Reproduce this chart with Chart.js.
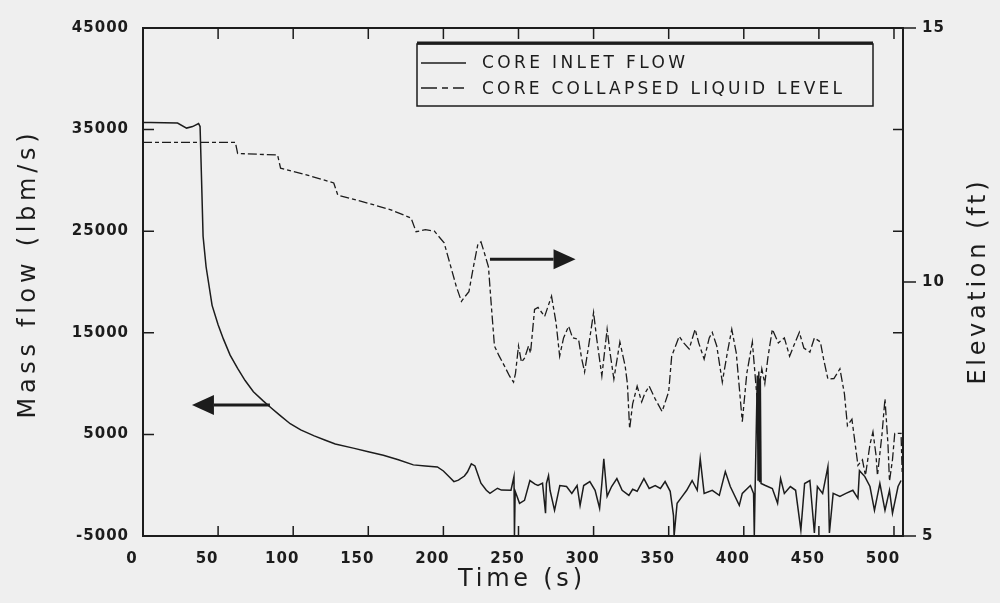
<!DOCTYPE html>
<html>
<head>
<meta charset="utf-8">
<script src="https://cdn.jsdelivr.net/npm/chart.js@4/dist/chart.umd.min.js"></script>
<style>
  html, body { margin: 0; padding: 0; background: #efefef; }
  canvas { display: block; }
</style>
</head>
<body>
<canvas id="chart" width="1000" height="603"></canvas>
<script>
// ---- data ----
const tFlow = [0, 5, 23, 29, 33, 37, 38, 39, 40, 42, 46, 50, 53.5, 58, 63, 68, 73.5, 80, 85, 91, 98, 105, 114, 121, 128,
  140, 150, 160, 170, 180, 188, 196, 200, 204, 207, 210, 214, 216, 218.6, 221, 225, 228.6, 231, 236,
  238.6, 245, 247, 247.3, 247.8, 250.7, 254, 257.6, 261, 263, 266, 268, 268.6, 270, 271, 274, 277.5, 282, 285.5, 289,
  291, 293.4, 297.5, 301, 304, 305.5, 306.8, 309, 312, 315.5, 319, 323.5, 326, 329, 333.5, 337, 341, 344.5, 347.6, 351,
  353.2, 353.6, 355.6, 359, 362, 365.6, 369, 371, 373.6, 379, 383.7, 387.7, 391, 397, 399, 404.4, 406.5, 407, 407.5,
  409, 409.5, 410, 410.5, 411, 411.5, 414.4, 419, 422.5, 424.5, 427, 431, 434.5, 438, 440.5, 444, 447, 449, 452.5, 456,
  457, 459.5, 464, 468, 472.6, 476, 477, 480.6, 484, 487, 490.6, 494, 497, 499, 502.7, 504.7];
const flow = [35700, 35700, 35650, 35150, 35300, 35600, 35300, 30000, 24500, 21500, 17700, 15800, 14400, 12800, 11500,
  10300, 9200, 8300, 7650, 6900, 6050, 5450, 4850, 4450, 4050,
  3650, 3300, 2950, 2500, 2000, 1900, 1800, 1400, 800, 350, 500, 900, 1300, 2100, 1900, 200, -500, -800, -300,
  -480, -500, 850, -5000, -600, -1780, -1490, 460, 100, -30, 200, -2760, 170, 950, -500, -2470, -30, -130, -810, -30,
  -1980, -30, 360, -500, -2270, 170, 2600, -1100, -130, 650, -500, -1000, -400, -600, 650, -320, -30, -320, 360, -600,
  -3000, -5000, -1780, -1100, -500, 460, -500, 2600, -810, -500, -1000, 1340, -130, -1980, -810, -30, -810, -5000, -700,
  10800, 500, 11200, 300, 10500, 170, -30, -320, -1780, 650, -810, -130, -500, -4420, 170, 460, -4700, -130, -810, 1820,
  -4700, -810, -1100, -810, -500, -1290, 1430, 850, -130, -2470, 170, -2470, -500, -2760, -130, 460];

const tLevel = [0, 61.5, 63, 89.6, 91.6, 110, 127, 129.7, 150, 165, 178.5, 181.8, 188, 194, 200.5, 204, 208.6, 212, 214,
  217, 220, 223, 225, 227, 230, 232, 234, 237, 240.6, 244, 246.7, 248, 250, 252, 254, 256.7, 258, 260.7, 263, 267.4, 270,
  272, 275, 277.4, 280, 283.4, 286, 290, 292, 294, 297, 300, 302, 305.5, 309, 311, 313.5, 317.5, 321, 322.5, 324, 326,
  329, 332, 334, 337, 341, 345.6, 350, 352, 357, 360, 363.6, 367.6, 370, 373.6, 377, 379, 382, 385.7, 389, 392, 395, 399,
  402, 405.7, 409, 412, 414, 416, 419, 423, 427, 430.5, 434, 437, 440, 444, 447, 451, 453, 456, 460, 464, 467, 469, 472,
  476, 479, 481, 484, 486, 488, 489, 492, 494, 496, 497, 499, 500.5, 504.7, 505.5];
const level = [12.75, 12.75, 12.53, 12.5, 12.24, 12.1, 11.95, 11.71, 11.55, 11.42, 11.26, 10.99, 11.03, 11.0, 10.77, 10.4,
  9.91, 9.62, 9.7, 9.81, 10.3, 10.75, 10.79, 10.6, 10.3, 9.5, 8.74, 8.55, 8.35, 8.15, 8.03, 8.2, 8.74, 8.42, 8.5, 8.74, 8.6,
  9.46, 9.5, 9.32, 9.55, 9.72, 9.2, 8.54, 8.9, 9.13, 8.9, 8.87, 8.5, 8.23, 8.8, 9.4, 8.9, 8.15, 9.07, 8.6, 8.09, 8.82, 8.35,
  8.0, 7.11, 7.6, 7.95, 7.64, 7.8, 7.95, 7.7, 7.45, 7.84, 8.54, 8.93, 8.8, 8.68, 9.07, 8.8, 8.48, 8.9, 9.01, 8.74, 8.03, 8.6,
  9.07, 8.6, 7.25, 8.2, 8.82, 7.64, 8.29, 8.0, 8.5, 9.07, 8.8, 8.9, 8.54, 8.8, 9.01, 8.7, 8.62, 8.9, 8.82, 8.5, 8.09, 8.1,
  8.29, 7.8, 7.17, 7.3, 6.39, 6.5, 6.19, 6.8, 7.05, 6.6, 6.19, 7.0, 7.7, 6.8, 6.08, 6.5, 7.02, 7.02, 6.2];

const xTicks = [0, 50, 100, 150, 200, 250, 300, 350, 400, 450, 500];
const flowTicks = [-5000, 5000, 15000, 25000, 35000, 45000];
const levelTicks = [5, 9, 10, 11, 13, 15];
const levelLabels = [5, 10, 15];
const seriesNames = ['CORE INLET FLOW', 'CORE COLLAPSED LIQUID LEVEL'];

const ink = '#1c1c1c';
const fam = "'DejaVu Sans', sans-serif";
const levelDash = [9, 3, 4, 3];

// text squeezed/stretched to a given width, like the old lettering
function spacedText(ctx, str, x, y, width, centered) {
  ctx.letterSpacing = '0px';
  const w = ctx.measureText(str).width;
  ctx.letterSpacing = ((width - w) / (str.length - 1)) + 'px';
  ctx.textAlign = 'left';
  ctx.fillText(str, centered ? x - width / 2 : x, y);
  ctx.letterSpacing = '0px';
}

function arrow(ctx, x0, x1, yy) {
  const dir = x1 > x0 ? 1 : -1, head = 22, half = 10;
  ctx.lineWidth = 3;
  ctx.beginPath(); ctx.moveTo(x0, yy); ctx.lineTo(x1 - dir * head, yy); ctx.stroke();
  ctx.beginPath();
  ctx.moveTo(x1, yy); ctx.lineTo(x1 - dir * head, yy - half); ctx.lineTo(x1 - dir * head, yy + half);
  ctx.closePath(); ctx.fill();
}

const framePlugin = {
  id: 'frame',
  beforeDraw(chart) {
    const c = chart.ctx;
    c.fillStyle = '#efefef';
    c.fillRect(0, 0, chart.width, chart.height);
    c.letterSpacing = '1px';
  },
  afterDraw(chart) {
    const { ctx, chartArea: a } = chart;
    const { x, y, y1 } = chart.scales;
    ctx.save();
    ctx.letterSpacing = '0px';
    ctx.strokeStyle = ink; ctx.fillStyle = ink;

    // box and inward ticks
    ctx.lineWidth = 2;
    ctx.strokeRect(a.left, a.top, a.right - a.left, a.bottom - a.top);
    ctx.lineWidth = 1.5;
    ctx.beginPath();
    xTicks.forEach(v => {
      if (v === 0) return;
      const px = x.getPixelForValue(v);
      ctx.moveTo(px, a.bottom); ctx.lineTo(px, a.bottom - 10);
      ctx.moveTo(px, a.top); ctx.lineTo(px, a.top + 11);
    });
    flowTicks.forEach(v => {
      const py = y.getPixelForValue(v);
      ctx.moveTo(a.left, py); ctx.lineTo(a.left + 11, py);
    });
    levelTicks.forEach(v => {
      const py = y1.getPixelForValue(v);
      ctx.moveTo(a.right, py);
      ctx.lineTo(levelLabels.includes(v) ? a.right + 13 : a.right - 10, py);
    });
    ctx.stroke();

    // legend box
    const L = 417, T = 44, R = 873, B = 106;
    ctx.fillStyle = '#efefef';
    ctx.fillRect(L, T, R - L, B - T);
    ctx.fillStyle = ink;
    ctx.lineWidth = 1.5; ctx.strokeRect(L, T, R - L, B - T);
    ctx.lineWidth = 3;
    ctx.beginPath(); ctx.moveTo(L, T - 1); ctx.lineTo(R, T - 1); ctx.stroke();
    ctx.lineWidth = 1.4;
    ctx.beginPath(); ctx.moveTo(421, 63); ctx.lineTo(466, 63); ctx.stroke();
    ctx.setLineDash([16, 5, 6, 5]);
    ctx.beginPath(); ctx.moveTo(421, 88); ctx.lineTo(464, 88); ctx.stroke();
    ctx.setLineDash([]);
    ctx.font = '17px ' + fam;
    ctx.textBaseline = 'middle';
    spacedText(ctx, seriesNames[0], 482, 64, 203, false);
    spacedText(ctx, seriesNames[1], 482, 90, 360, false);

    // arrows pointing at each series' axis
    arrow(ctx, x.getPixelForValue(231), x.getPixelForValue(288), y1.getPixelForValue(10.45));
    arrow(ctx, x.getPixelForValue(84.5), x.getPixelForValue(32.6), y.getPixelForValue(7900));

    // axis titles
    ctx.font = '24px ' + fam;
    ctx.save();
    ctx.translate(29, 276); ctx.rotate(-Math.PI / 2);
    spacedText(ctx, 'Mass flow (lbm/s)', 0, 0, 285, true);
    ctx.restore();
    ctx.save();
    ctx.translate(979, 283); ctx.rotate(-Math.PI / 2);
    spacedText(ctx, 'Elevation (ft)', 0, 0, 203, true);
    ctx.restore();
    spacedText(ctx, 'Time (s)', (a.left + a.right) / 2 - 3, 580, 124, true);
    ctx.restore();
  }
};

const tickFont = { family: fam, size: 15, weight: 'bold' };
const plain = v => String(v);

new Chart(document.getElementById('chart').getContext('2d'), {
  type: 'scatter',
  data: {
    datasets: [{
      label: seriesNames[0],
      data: tFlow.map((t, i) => ({ x: t, y: flow[i] })),
      yAxisID: 'y', showLine: true, borderColor: ink, borderWidth: 1.5,
      pointRadius: 0, tension: 0
    }, {
      label: seriesNames[1],
      data: tLevel.map((t, i) => ({ x: t, y: level[i] })),
      yAxisID: 'y1', showLine: true, borderColor: ink, borderWidth: 1.3,
      borderDash: levelDash, pointRadius: 0, tension: 0
    }]
  },
  options: {
    responsive: false,
    animation: false,
    layout: { padding: { top: 22 } },
    plugins: { legend: { display: false }, tooltip: { enabled: false } },
    scales: {
      x: {
        type: 'linear', min: 0, max: 506,
        afterBuildTicks: s => { s.ticks = xTicks.map(v => ({ value: v })); },
        afterFit: s => { s.height = 67; },
        grid: { display: false, drawTicks: false }, border: { display: false },
        ticks: { padding: 14, labelOffset: -11, color: ink, font: tickFont, maxRotation: 0, callback: plain }
      },
      y: {
        position: 'left', min: -5000, max: 45000,
        afterBuildTicks: s => { s.ticks = flowTicks.map(v => ({ value: v })); },
        afterFit: s => { s.width = 143; },
        grid: { display: false, drawTicks: false }, border: { display: false },
        ticks: { padding: 14, color: ink, font: tickFont, callback: plain }
      },
      y1: {
        position: 'right', min: 5, max: 15,
        afterBuildTicks: s => { s.ticks = levelTicks.map(v => ({ value: v })); },
        afterFit: s => { s.width = 97; },
        grid: { display: false, drawTicks: false }, border: { display: false },
        ticks: {
          padding: 19, color: ink, font: tickFont,
          callback: v => levelLabels.includes(v) ? String(v) : ''
        }
      }
    }
  },
  plugins: [framePlugin]
});
</script>
</body>
</html>
